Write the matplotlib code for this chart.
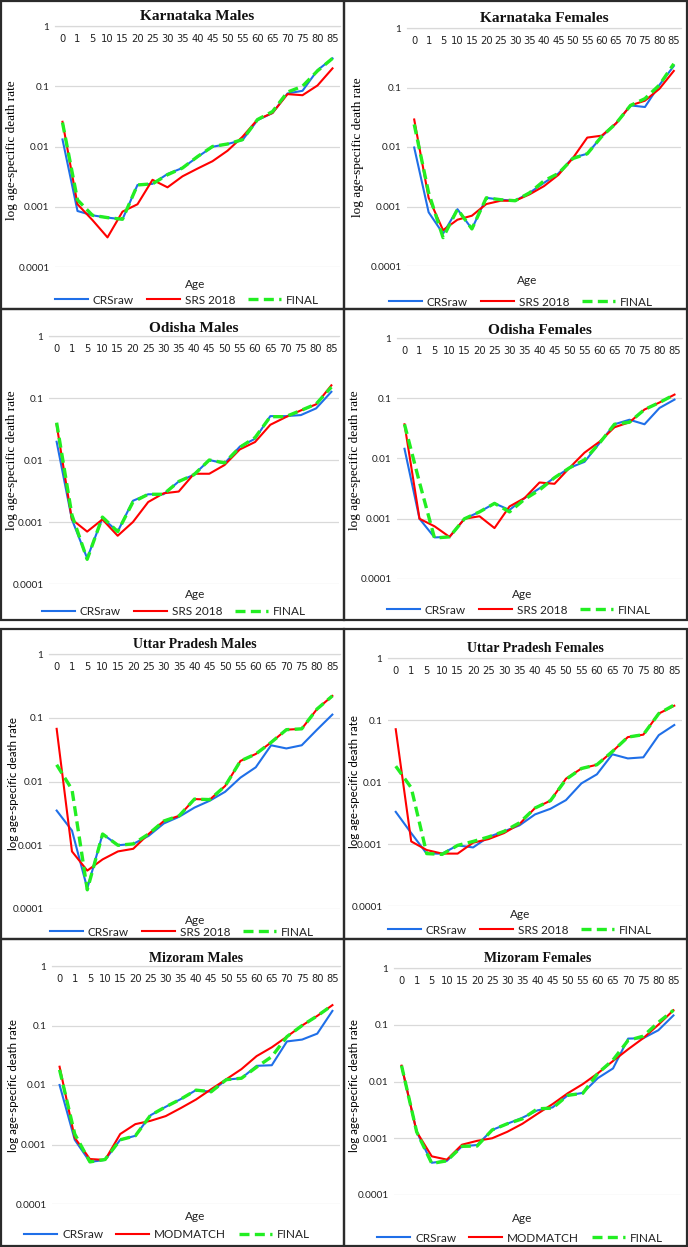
import matplotlib
matplotlib.use("Agg")
import matplotlib.pyplot as plt
from matplotlib.patches import Rectangle
from matplotlib.ticker import FixedLocator, FixedFormatter, NullLocator

ages = ["0", "1", "5", "10", "15", "20", "25", "30", "35", "40",
        "45", "50", "55", "60", "65", "70", "75", "80", "85"]

# Karnataka Males
km_crs = [0.0131, 0.00085, 0.00072, 0.00066, 0.00062, 0.0023, 0.0024, 0.0035, 0.0044, 0.0067,
          0.0099, 0.011, 0.0128, 0.0274, 0.036, 0.076, 0.084, 0.185, 0.29]
km_srs = [0.0257, 0.0011, 0.0006, 0.00031, 0.00083, 0.0011, 0.0028, 0.0021, 0.0032, 0.0043,
          0.0057, 0.0085, 0.0145, 0.028, 0.036, 0.074, 0.071, 0.103, 0.198]
km_fin = [0.025, 0.0013, 0.00072, 0.00066, 0.00062, 0.0023, 0.0024, 0.0034, 0.0044, 0.0068,
          0.010, 0.011, 0.013, 0.028, 0.038, 0.08, 0.10, 0.18, 0.29]

# Karnataka Females
kf_crs = [0.0098, 0.0008, 0.00035, 0.0009, 0.00042, 0.0014, 0.0013, 0.00125, 0.0017, 0.0025,
          0.0036, 0.0066, 0.0077, 0.015, 0.025, 0.05, 0.047, 0.11, 0.23]
kf_srs = [0.029, 0.0014, 0.0004, 0.0006, 0.0007, 0.0011, 0.00125, 0.00125, 0.0016, 0.0022,
          0.0034, 0.0065, 0.0144, 0.0155, 0.025, 0.05, 0.06, 0.095, 0.19]
kf_fin = [0.024, 0.0017, 0.0003, 0.0009, 0.00042, 0.0014, 0.0013, 0.00125, 0.0017, 0.0027,
          0.0036, 0.0064, 0.0077, 0.015, 0.025, 0.05, 0.065, 0.11, 0.25]

# Odisha Males
om_crs = [0.0197, 0.0011, 0.00026, 0.00116, 0.0007, 0.0022, 0.0028, 0.0028, 0.0045, 0.0058,
          0.010, 0.0088, 0.0164, 0.022, 0.051, 0.051, 0.053, 0.068, 0.126]
om_srs = [0.037, 0.0011, 0.0007, 0.0011, 0.0006, 0.001, 0.0021, 0.0029, 0.0031, 0.006,
          0.006, 0.0083, 0.0148, 0.0195, 0.037, 0.049, 0.063, 0.079, 0.16]
om_fin = [0.04, 0.0013, 0.00025, 0.0012, 0.0007, 0.0021, 0.0028, 0.0028, 0.0045, 0.0058,
          0.010, 0.009, 0.016, 0.023, 0.05, 0.05, 0.063, 0.08, 0.15]

# Odisha Females
of_crs = [0.0145, 0.001, 0.00049, 0.0005, 0.001, 0.0013, 0.0018, 0.0014, 0.0022, 0.0032,
          0.0048, 0.007, 0.0088, 0.018, 0.037, 0.044, 0.037, 0.069, 0.095]
of_srs = [0.037, 0.001, 0.00075, 0.0005, 0.001, 0.0011, 0.0007, 0.0016, 0.0022, 0.004,
          0.0038, 0.007, 0.0125, 0.019, 0.033, 0.04, 0.065, 0.085, 0.115]
of_fin = [0.037, 0.004, 0.00048, 0.0005, 0.001, 0.0013, 0.0018, 0.0013, 0.0021, 0.003,
          0.0048, 0.007, 0.0095, 0.018, 0.037, 0.04, 0.065, 0.085, 0.115]

# Uttar Pradesh Males
upm_crs = [0.0035, 0.0017, 0.00021, 0.0015, 0.001, 0.00105, 0.0014, 0.0022, 0.0028, 0.0039,
           0.005, 0.0069, 0.0115, 0.0167, 0.037, 0.033, 0.037, 0.065, 0.112]
upm_srs = [0.067, 0.0008, 0.0004, 0.0006, 0.0008, 0.00088, 0.0015, 0.0024, 0.0029, 0.0053,
           0.0052, 0.0085, 0.021, 0.027, 0.041, 0.065, 0.067, 0.137, 0.22]
upm_fin = [0.0183, 0.0075, 0.0002, 0.0015, 0.001, 0.00105, 0.0015, 0.0024, 0.0029, 0.0053,
           0.0052, 0.0085, 0.021, 0.027, 0.041, 0.065, 0.067, 0.137, 0.22]

# Uttar Pradesh Females
upf_crs = [0.0033, 0.0015, 0.0007, 0.0007, 0.00095, 0.00088, 0.0013, 0.0016, 0.002, 0.003,
           0.0037, 0.0051, 0.0095, 0.0133, 0.028, 0.024, 0.025, 0.057, 0.083]
upf_srs = [0.071, 0.0011, 0.0008, 0.0007, 0.0007, 0.00105, 0.0012, 0.0015, 0.0021, 0.0038,
           0.005, 0.0113, 0.0165, 0.019, 0.031, 0.053, 0.058, 0.127, 0.17]
upf_fin = [0.018, 0.0081, 0.0007, 0.00068, 0.00095, 0.0011, 0.0013, 0.0016, 0.0022, 0.0038,
           0.005, 0.011, 0.0165, 0.019, 0.031, 0.053, 0.058, 0.127, 0.175]

# Mizoram Males
mm_crs = [0.01, 0.0012, 0.00051, 0.00055, 0.0012, 0.0014, 0.0031, 0.0043, 0.0058, 0.0082,
          0.0077, 0.0123, 0.013, 0.021, 0.0215, 0.054, 0.058, 0.073, 0.176]
mm_mod = [0.0203, 0.0013, 0.00057, 0.00055, 0.0015, 0.0022, 0.0025, 0.003, 0.0041, 0.0057,
          0.0085, 0.0125, 0.0185, 0.0306, 0.043, 0.065, 0.10, 0.145, 0.22]
mm_fin = [0.018, 0.0015, 0.00051, 0.00056, 0.0012, 0.0014, 0.0031, 0.0043, 0.0058, 0.0082,
          0.0077, 0.0123, 0.013, 0.02, 0.03, 0.065, 0.10, 0.145, 0.22]

# Mizoram Females
mf_crs = [0.0187, 0.0013, 0.00037, 0.0004, 0.00072, 0.00076, 0.0014, 0.0018, 0.0023, 0.0031,
          0.0035, 0.0057, 0.0063, 0.0115, 0.017, 0.057, 0.058, 0.08, 0.146]
mf_mod = [0.019, 0.0013, 0.00048, 0.00042, 0.00077, 0.0009, 0.001, 0.0013, 0.0018, 0.0027,
          0.004, 0.0062, 0.009, 0.014, 0.023, 0.037, 0.058, 0.10, 0.18]
mf_fin = [0.019, 0.0013, 0.00036, 0.0004, 0.00072, 0.00073, 0.0014, 0.0018, 0.0022, 0.0033,
          0.0034, 0.0057, 0.0062, 0.014, 0.024, 0.053, 0.063, 0.11, 0.18]

W, H = 688, 1247
fig = plt.figure(figsize=(W / 100, H / 100), dpi=100)

SANS = "Lato"
SERIF = "Liberation Serif"


def px_rect(l, t, r, b):
    return [l / W, 1 - b / H, (r - l) / W, (b - t) / H]


def panel(box, plot, title, title_y, ylab_xy, ylab_serif, age_xy, leg_xy,
          crs, mid, fin, mid_name, title_fs=11):
    # outer frame
    l, t, r, b = box
    fig.patches.append(Rectangle((l / W, 1 - b / H), (r - l) / W, (b - t) / H,
                                 transform=fig.transFigure, fill=False,
                                 edgecolor="#2b2b2b", lw=1.6))
    ax = fig.add_axes(px_rect(*plot))
    x = range(len(ages))
    ax.plot(x, crs, color="#1f6fe8", lw=1.5, label="CRSraw")
    ax.plot(x, mid, color="#ff0000", lw=1.5, label=mid_name)
    ax.plot(x, fin, color="#22ee22", lw=2.4, ls=(0, (3, 1.6)), label="FINAL")
    ax.set_yscale("log")
    ax.set_ylim(1e-4, 1)
    ax.set_xlim(-0.5, len(ages) - 0.5)
    ticks = [1e-4, 1e-3, 1e-2, 1e-1, 1]
    ax.yaxis.set_major_locator(FixedLocator(ticks))
    ax.yaxis.set_major_formatter(FixedFormatter(["0.0001", "0.001", "0.01", "0.1", "1"]))
    ax.yaxis.set_minor_locator(NullLocator())
    ax.set_xticks(list(x))
    ax.set_xticklabels(ages)
    ax.tick_params(axis="both", length=0, labelsize=7.2, colors="#222222")
    ax.tick_params(axis="x", pad=6)
    ax.tick_params(axis="y", pad=4)
    for lab in ax.get_xticklabels() + ax.get_yticklabels():
        lab.set_fontfamily(SANS)
    ax.grid(axis="y", color="#d9d9d9", lw=0.9)
    ax.set_axisbelow(True)
    for s in ("top", "left", "right"):
        ax.spines[s].set_visible(False)
    ax.spines["bottom"].set_position(("data", 1.0))
    ax.spines["bottom"].set_color("#d9d9d9")
    ax.spines["bottom"].set_linewidth(0.9)
    ax.set_facecolor("none")

    cx = (plot[0] + plot[2]) / 2
    fig.text(cx / W, 1 - title_y / H, title, ha="center", va="center",
             fontsize=title_fs, fontweight="bold", family=SERIF, color="#111111")
    if ylab_serif:
        fig.text(ylab_xy[0] / W, 1 - ylab_xy[1] / H, "log age-specific death rate",
                 rotation=90, ha="center", va="center", fontsize=9.5, family=SERIF)
    else:
        fig.text(ylab_xy[0] / W, 1 - ylab_xy[1] / H, "log age-specific death rate",
                 rotation=90, ha="center", va="center", fontsize=8.3, family=SANS)
    fig.text(age_xy[0] / W, 1 - age_xy[1] / H, "Age", ha="center", va="center",
             fontsize=8.5, family=SANS, color="#222222")
    leg = ax.legend(loc="center", bbox_to_anchor=(leg_xy[0] / W, 1 - leg_xy[1] / H),
                    bbox_transform=fig.transFigure, ncol=3, frameon=False,
                    handlelength=2.8, columnspacing=1.1, handletextpad=0.4,
                    prop={"family": SANS, "size": 8.5}, borderaxespad=0, borderpad=0)
    for txt in leg.get_texts():
        txt.set_color("#222222")
    return ax


panel((1, 1, 344, 309), (55, 26, 340, 267), "Karnataka Males", 16, (12, 150), True,
      (195, 285), (187, 300), km_crs, km_srs, km_fin, "SRS 2018")
panel((344, 1, 687, 309), (407, 28, 681, 266), "Karnataka Females", 19, (358, 147), True,
      (527, 280), (521, 302), kf_crs, kf_srs, kf_fin, "SRS 2018")
panel((1, 309, 344, 620), (49, 336, 339, 584), "Odisha Males", 329, (12, 460), True,
      (195, 595), (174, 612), om_crs, om_srs, om_fin, "SRS 2018")
panel((344, 309, 687, 620), (397, 338, 682, 579), "Odisha Females", 330, (355, 460), True,
      (522, 595), (519, 610), of_crs, of_srs, of_fin, "SRS 2018")
panel((1, 629, 344, 939), (49, 654, 340, 909), "Uttar Pradesh Males", 645, (14, 783), False,
      (195, 920), (182, 932), upm_crs, upm_srs, upm_fin, "SRS 2018", title_fs=10)
panel((344, 629, 687, 939), (388, 658, 682, 906), "Uttar Pradesh Females", 649, (354, 782), False,
      (520, 915), (520, 930), upf_crs, upf_srs, upf_fin, "SRS 2018", title_fs=10)
panel((1, 939, 344, 1246), (52, 966, 340, 1204), "Mizoram Males", 959, (14, 1085), False,
      (195, 1217), (167, 1235), mm_crs, mm_mod, mm_fin, "MODMATCH", title_fs=10)
panel((344, 939, 687, 1246), (394, 968, 681, 1195), "Mizoram Females", 959, (354, 1085), False,
      (522, 1218), (520, 1238), mf_crs, mf_mod, mf_fin, "MODMATCH", title_fs=10)

fig.savefig("out.png", dpi=100)
